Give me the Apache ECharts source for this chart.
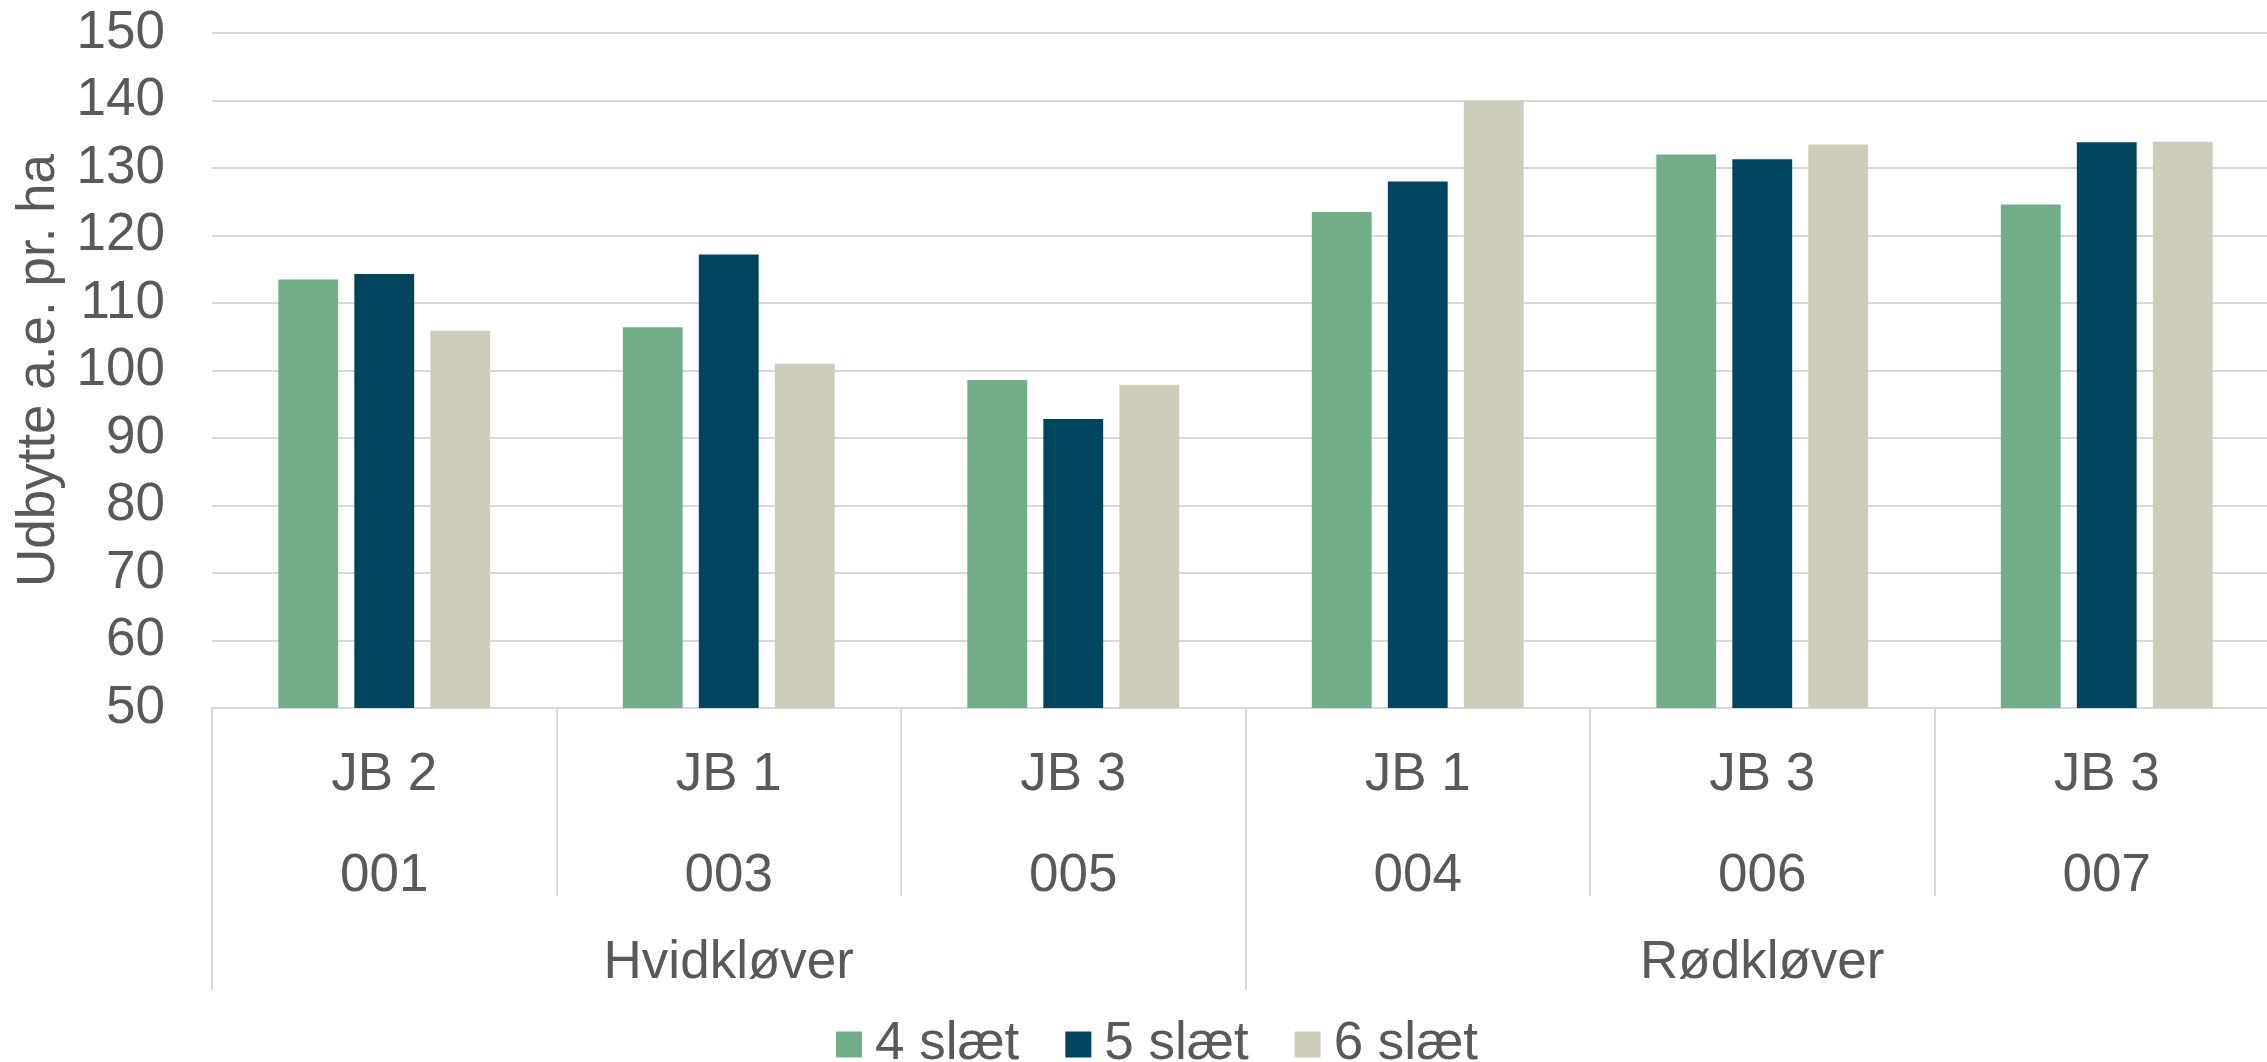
<!DOCTYPE html>
<html>
<head>
<meta charset="utf-8">
<script src="https://cdn.jsdelivr.net/npm/echarts@6/dist/echarts.min.js"></script>
<style>
  html, body { margin: 0; padding: 0; background: #fff; overflow: hidden; }
  /* a bit wider than the window: the plot runs past the right edge like the original */
  #chart { width: 2279px; height: 1062px; }
</style>
</head>
<body>
<div id="chart"></div>
<script>
// data
const soil = ['JB 2', 'JB 1', 'JB 3', 'JB 1', 'JB 3', 'JB 3']
const codes = ['001', '003', '005', '004', '006', '007']
const groups = ['Hvidkløver', 'Rødkløver']
const seriesNames = ['4 slæt', '5 slæt', '6 slæt']
const slaet4 = [113.5, 106.4, 98.6, 123.5, 132.0, 124.6]
const slaet5 = [114.3, 117.2, 92.8, 128.0, 131.3, 133.8]
const slaet6 = [105.9, 101.0, 97.9, 140.0, 133.5, 133.9]
const colors = ['#72ae8a', '#00445e', '#cecdbb']

const TXT = '#595959'
const LINE = '#d9d9d9'
const FONT = 'Liberation Sans'

let chart = echarts.init(document.getElementById('chart'))
chart.setOption({
  animation: false,
  textStyle: { fontFamily: FONT },
  grid: { left: 212, right: 0, top: 33, bottom: 354, containLabel: false },
  legend: {
    data: seriesNames,
    left: 836,
    top: 1018,
    padding: 0,
    itemWidth: 26,
    itemHeight: 26,
    itemGap: 46,
    icon: 'rect',
    textStyle: { color: TXT, fontSize: 53, fontFamily: FONT, padding: [0, 0, 0, 8] }
  },
  xAxis: [{
    type: 'category',
    data: soil,
    axisLine: { show: true, lineStyle: { color: LINE, width: 2 } },
    axisTick: { show: true, interval: 0, length: 188, lineStyle: { color: LINE, width: 2 } },
    axisLabel: { interval: 0, margin: 41, color: TXT, fontSize: 53 },
    splitLine: { show: false }
  }, {
    type: 'category',
    data: codes,
    position: 'bottom',
    axisLine: { show: false },
    axisTick: { show: false },
    axisLabel: { interval: 0, margin: 142, color: TXT, fontSize: 53 }
  }, {
    type: 'category',
    data: groups,
    position: 'bottom',
    axisLine: { show: false },
    axisTick: { show: true, interval: 0, length: 282, lineStyle: { color: LINE, width: 2 } },
    axisLabel: { interval: 0, margin: 229, color: TXT, fontSize: 53 }
  }],
  yAxis: {
    type: 'value',
    min: 50,
    max: 150,
    interval: 10,
    name: 'Udbytte a.e. pr. ha',
    nameLocation: 'middle',
    nameGap: 138,
    nameTextStyle: { color: TXT, fontSize: 53 },
    axisLine: { show: false },
    axisTick: { show: false },
    axisLabel: { color: TXT, fontSize: 53, margin: 47 },
    splitLine: { lineStyle: { color: LINE, width: 2 } }
  },
  series: [
    { name: seriesNames[0], type: 'bar', data: slaet4, itemStyle: { color: colors[0] }, barGap: '27%', barCategoryGap: '38.5%' },
    { name: seriesNames[1], type: 'bar', data: slaet5, itemStyle: { color: colors[1] } },
    { name: seriesNames[2], type: 'bar', data: slaet6, itemStyle: { color: colors[2] } }
  ]
})
</script>
</body>
</html>
